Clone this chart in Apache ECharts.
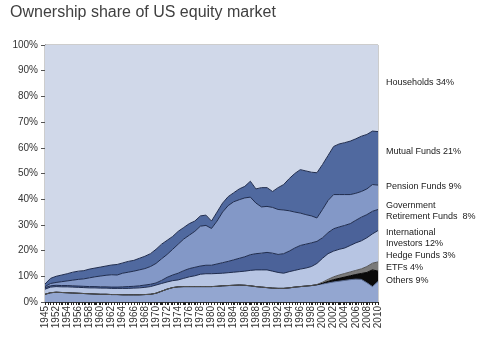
<!DOCTYPE html>
<html>
<head>
<meta charset="utf-8">
<script src="https://cdn.jsdelivr.net/npm/echarts@6/dist/echarts.min.js"></script>
<style>
html,body{margin:0;padding:0;background:#fff;}
#chart{width:500px;height:342px;}
</style>
</head>
<body>
<div id="chart"></div>
<script>
// Categories (annual points; second point sits between 1945 and 1952)
const years = ["1945","1949","1952","1953","1954","1955","1956","1957","1958","1959","1960","1961","1962","1963","1964","1965","1966","1967","1968","1969","1970","1971","1972","1973","1974","1975","1976","1977","1978","1979","1980","1981","1982","1983","1984","1985","1986","1987","1988","1989","1990","1991","1992","1993","1994","1995","1996","1997","1998","1999","2000","2001","2002","2003","2004","2005","2006","2007","2008","2009","2010"];

// Ownership shares, % (bottom of stack first)
const others = [3.0,3.6,3.8,3.7,3.6,3.5,3.4,3.3,3.2,3.1,3.0,3.0,2.9,2.9,2.8,2.8,2.8,2.8,2.9,3.0,3.4,4.2,5.0,5.6,5.9,6.0,6.0,6.0,6.0,6.0,6.0,6.1,6.3,6.4,6.5,6.6,6.5,6.3,6.0,5.8,5.6,5.4,5.3,5.3,5.5,5.8,6.0,6.2,6.4,6.7,7.0,7.4,7.8,8.1,8.4,8.7,8.9,8.8,7.5,6.0,8.0];
const etfs = [0,0,0,0,0,0,0,0,0,0,0,0,0,0,0,0,0,0,0,0,0,0,0,0,0,0,0,0,0,0,0,0,0,0,0,0,0,0,0,0,0,0,0,0,0,0,0,0,0,0,0.3,0.6,0.9,1.1,1.3,1.5,1.8,2.3,4.0,6.5,4.0];
const hedgeFunds = [0,0,0,0,0,0,0,0,0,0,0,0,0,0,0,0,0,0,0,0,0,0,0,0,0,0,0,0,0,0,0,0,0,0,0,0,0,0,0,0,0,0,0,0,0,0,0,0,0,0.1,0.4,0.8,1.1,1.3,1.4,1.5,1.6,1.8,2.3,2.6,3.6];
const international = [2.0,2.2,2.2,2.2,2.3,2.3,2.3,2.3,2.3,2.4,2.4,2.4,2.4,2.4,2.5,2.5,2.6,2.7,2.8,3.0,3.2,3.0,2.8,2.7,2.7,3.2,3.8,4.2,4.8,5.0,5.0,5.0,4.9,5.0,5.1,5.2,5.5,6.0,6.5,6.7,6.9,6.6,6.2,5.9,6.3,6.5,6.8,7.0,7.4,8.2,9.3,10.0,10.0,10.0,9.9,10.3,10.7,10.9,11.2,11.4,12.2];
const govRetirement = [0.6,0.5,0.5,0.5,0.5,0.5,0.5,0.5,0.5,0.5,0.5,0.5,0.5,0.5,0.6,0.7,0.7,0.8,0.9,0.9,0.8,1.2,1.8,2.2,2.6,3.0,3.2,3.3,3.2,3.3,3.3,3.7,4.1,4.4,4.8,5.2,5.6,6.1,6.3,6.5,6.8,7.0,7.0,7.6,8.0,8.7,9.2,9.3,9.2,8.6,8.0,8.2,8.7,8.7,8.8,8.5,8.8,9.2,9.0,8.8,8.2];
const pensionFunds = [0.4,0.9,1.1,1.5,1.8,2.2,2.6,2.9,3.4,3.8,4.2,4.5,4.8,4.7,5.3,5.6,5.9,6.2,6.4,6.9,7.6,8.4,8.9,10.0,11.3,12.3,13.0,14.0,15.5,15.5,14.3,16.7,19.7,21.7,22.6,22.8,22.9,22.4,19.7,18.0,17.9,17.8,17.5,17.0,15.7,14.0,12.6,11.5,10.5,9.1,11.0,12.5,13.3,12.6,12.0,11.3,10.5,10.0,10.0,10.4,9.5];
const mutualFunds = [1.0,2.0,2.4,2.6,2.8,3.1,3.2,3.2,3.4,3.4,3.5,3.6,3.8,4.1,4.0,4.2,4.2,4.5,4.8,5.0,5.5,5.7,5.5,5.0,5.0,4.5,4.5,4.0,4.0,4.0,2.9,3.5,3.5,3.5,3.5,4.2,4.5,6.2,5.5,7.5,7.3,6.2,8.5,9.9,12.5,15.0,16.9,17.0,17.0,17.6,17.5,17.5,18.7,19.7,20.2,20.8,21.2,21.5,21.2,20.8,20.8];
const households = [93.0,90.8,90.0,89.5,89.0,88.4,88.0,87.8,87.2,86.8,86.4,86.0,85.6,85.4,84.8,84.2,83.8,83.0,82.2,81.2,79.5,77.5,76.0,74.5,72.5,71.0,69.5,68.5,66.5,66.2,68.5,65.0,61.5,59.0,57.5,56.0,55.0,53.0,56.0,55.5,55.5,57.0,55.5,54.3,52.0,50.0,48.5,49.0,49.5,49.7,46.5,43.0,39.5,38.5,38.0,37.4,36.5,35.5,34.8,33.5,33.7];

// Right-hand annotations
const notes = [
  ["Households 34%"],
  ["Mutual Funds 21%"],
  ["Pension Funds 9%"],
  ["Government","Retirement Funds  8%"],
  ["International","Investors 12%"],
  ["Hedge Funds 3%"],
  ["ETFs 4%"],
  ["Others 9%"]
];
const noteY = [83, 152, 187, 211, 238, 256, 268, 281];

const FONT = "'Liberation Sans', Arial, sans-serif";

const seriesDefs = [
  {name:"Others", data:others, fill:"#93A6D0", line:"#56688f"},
  {name:"ETFs", data:etfs, fill:"#0a0a0a", line:"#000000"},
  {name:"Hedge Funds", data:hedgeFunds, fill:"#7a7a7a", line:"#555555"},
  {name:"International Investors", data:international, fill:"#B7C5E3", line:"#1e2b4d"},
  {name:"Government Retirement Funds", data:govRetirement, fill:"#4B6299", line:"#1e2b4d"},
  {name:"Pension Funds", data:pensionFunds, fill:"#8398C7", line:"#1e2b4d"},
  {name:"Mutual Funds", data:mutualFunds, fill:"#50699F", line:"#1e2b4d"},
  {name:"Households", data:households, fill:"#D0D8E9", line:"#D0D8E9"}
];

const chart = echarts.init(document.getElementById('chart'), null, {renderer:'canvas'});

const graphics = notes.map((lines, i) => ({
  type:'text', left:386, top: noteY[i] - (lines.length*11)/2,
  style:{text:lines.join('\n'), font:"9px " + FONT, fill:'#1a1a1a', lineHeight:11}
}));

chart.setOption({
  animation:false,
  title:{
    text:'Ownership share of US equity market',
    left:5, top:0,
    textStyle:{fontFamily:FONT, fontSize:16, fontWeight:'normal', color:'#404040'}
  },
  grid:{left:45, right:122, top:45, bottom:40, show:true, borderColor:'#9a9a9a', borderWidth:1, backgroundColor:'transparent'},
  xAxis:[{
    type:'category', data:years, boundaryGap:false,
    axisLine:{lineStyle:{color:'#333', width:1}},
    axisTick:{show:true, interval:0, length:3, lineStyle:{color:'#222', width:1}},
    axisLabel:{interval:1, rotate:90, fontFamily:FONT, fontSize:10, color:'#333', margin:4}
  },{
    // fine minor tick marks along the base (no labels)
    type:'value', position:'bottom', min:0, max:116, interval:1,
    axisLine:{show:false}, splitLine:{show:false},
    axisTick:{show:true, length:3, lineStyle:{color:'#222', width:1}},
    axisLabel:{show:false}
  }],
  yAxis:{
    type:'value', min:0, max:100, interval:10,
    axisLine:{show:true, lineStyle:{color:'#555'}},
    axisTick:{show:true, length:4, lineStyle:{color:'#555'}},
    splitLine:{show:false},
    axisLabel:{formatter:'{value}%', fontFamily:FONT, fontSize:10, color:'#333', margin:7}
  },
  graphic: graphics,
  series: seriesDefs.map(s => ({
    name:s.name, type:'line', stack:'total', data:s.data, xAxisIndex:0,
    showSymbol:false, symbol:'none', smooth:false,
    lineStyle:{color:s.line, width: s.name === 'Households' ? 0 : 1},
    areaStyle:{color:s.fill, opacity:1},
    itemStyle:{color:s.fill}
  }))
});
</script>
</body>
</html>
